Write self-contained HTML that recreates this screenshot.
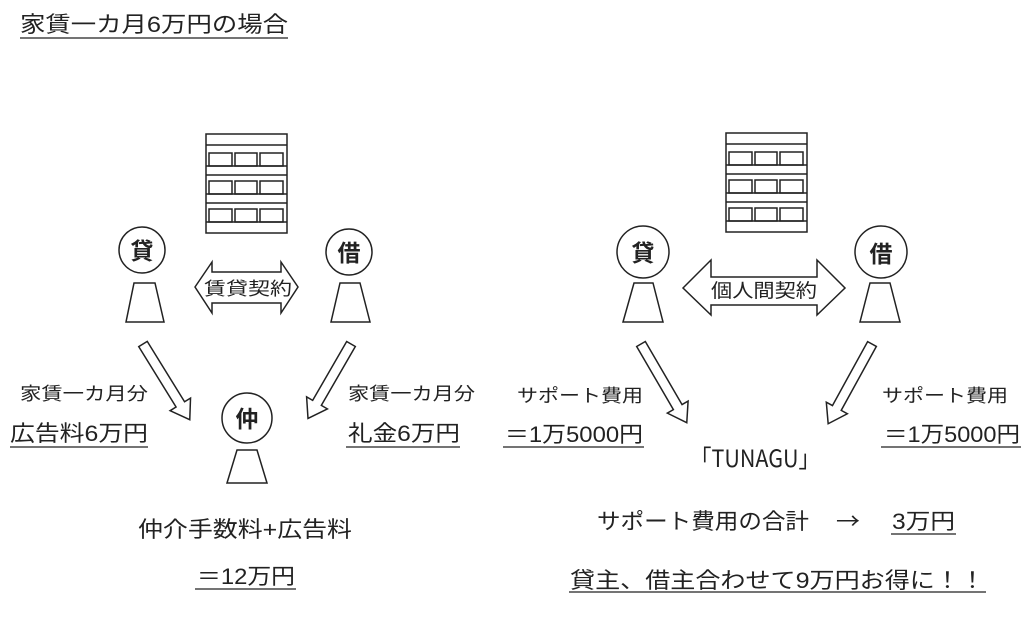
<!DOCTYPE html>
<html><head><meta charset="utf-8"><style>
html,body{margin:0;padding:0;background:#fff;}
svg{display:block;}
text{font-family:"Liberation Sans","Noto Sans CJK JP",sans-serif;fill:#222;}
.b{font-weight:bold;}
.cjk{font-family:"Noto Sans CJK JP",sans-serif;}
</style></head><body>
<svg width="1024" height="620" viewBox="0 0 1024 620" xmlns="http://www.w3.org/2000/svg">
<defs>
<g id="bld" fill="none" stroke="#222" stroke-width="1.5">
<rect x="0" y="0" width="81" height="99"/>
<line x1="0" y1="11" x2="81" y2="11"/>
<line x1="0" y1="32" x2="81" y2="32"/>
<line x1="0" y1="41" x2="81" y2="41"/>
<line x1="0" y1="60" x2="81" y2="60"/>
<line x1="0" y1="69" x2="81" y2="69"/>
<line x1="0" y1="88" x2="81" y2="88"/>
<rect x="3" y="19" width="23" height="13"/><rect x="29" y="19" width="22" height="13"/><rect x="54" y="19" width="23" height="13"/>
<rect x="3" y="47" width="23" height="13"/><rect x="29" y="47" width="22" height="13"/><rect x="54" y="47" width="23" height="13"/>
<rect x="3" y="75" width="23" height="13"/><rect x="29" y="75" width="22" height="13"/><rect x="54" y="75" width="23" height="13"/>
</g>
</defs>

<text x="20" y="32" font-size="22" textLength="268" lengthAdjust="spacingAndGlyphs">家賃一カ月6万円の場合</text>
<line x1="20" y1="38" x2="288" y2="38" stroke="#222" stroke-width="1.3"/>

<!-- LEFT -->
<use href="#bld" x="206" y="134"/>
<g fill="#fff" stroke="#222" stroke-width="1.5">
<circle cx="142" cy="250" r="23"/>
<polygon points="134,283 155,283 164,322 126,322"/>
<circle cx="349" cy="252" r="23"/>
<polygon points="340,283 360,283 370,322 331,322"/>
<circle cx="247" cy="418" r="25"/>
<polygon points="237,450 257,450 267,483 227,483"/>
<polygon points="195,287 212,262 212,272 281,272 281,262 298,287 281,313 281,303 212,303 212,313"/>
<polygon transform="translate(143,344) rotate(58.3)" points="0,-5 71,-5 71,-12 89,0 71,12 71,5 0,5"/>
<polygon transform="translate(351,344) rotate(120)" points="0,-5 68,-5 68,-12 86,0 68,12 68,5 0,5"/>
</g>
<text x="142" y="259" font-size="23" class="b" text-anchor="middle">貸</text>
<text x="349" y="261" font-size="23" class="b" text-anchor="middle">借</text>
<text x="247" y="427" font-size="23" class="b" text-anchor="middle">仲</text>
<text x="204" y="295" font-size="18" textLength="88" lengthAdjust="spacingAndGlyphs">賃貸契約</text>

<text x="20" y="400" font-size="18" textLength="128" lengthAdjust="spacingAndGlyphs">家賃一カ月分</text>
<text x="10" y="441" font-size="22" textLength="138" lengthAdjust="spacingAndGlyphs">広告料6万円</text>
<line x1="10" y1="447" x2="148" y2="447" stroke="#222" stroke-width="1.3"/>
<text x="348" y="400" font-size="18" textLength="127" lengthAdjust="spacingAndGlyphs">家賃一カ月分</text>
<text x="348" y="441" font-size="22" textLength="112" lengthAdjust="spacingAndGlyphs">礼金6万円</text>
<line x1="346" y1="447" x2="460" y2="447" stroke="#222" stroke-width="1.3"/>
<text x="138" y="537" font-size="22" textLength="214" lengthAdjust="spacingAndGlyphs">仲介手数料+広告料</text>
<text x="197" y="584" font-size="22" textLength="98" lengthAdjust="spacingAndGlyphs">＝12万円</text>
<line x1="195" y1="589" x2="296" y2="589" stroke="#222" stroke-width="1.3"/>

<!-- RIGHT -->
<use href="#bld" x="726" y="133"/>
<g fill="#fff" stroke="#222" stroke-width="1.5">
<circle cx="643" cy="252" r="26"/>
<polygon points="634,283 653,283 663,322 623,322"/>
<circle cx="881" cy="252" r="26"/>
<polygon points="870,283 890,283 900,322 860,322"/>
<polygon points="683,288 711,260 711,277 817,277 817,260 845,288 817,315 817,305 711,305 711,315"/>
<polygon transform="translate(641,344) rotate(59.8)" points="0,-5 73,-5 73,-12 91,0 73,12 73,5 0,5"/>
<polygon transform="translate(872,344) rotate(118.8)" points="0,-5 73,-5 73,-12 91,0 73,12 73,5 0,5"/>
</g>
<text x="643" y="261" font-size="23" class="b" text-anchor="middle">貸</text>
<text x="881" y="262" font-size="23" class="b" text-anchor="middle">借</text>
<text x="711" y="297" font-size="19" textLength="106" lengthAdjust="spacingAndGlyphs">個人間契約</text>

<text x="517" y="402" font-size="18" textLength="126" lengthAdjust="spacingAndGlyphs">サポート費用</text>
<text x="505" y="442" font-size="22" textLength="138" lengthAdjust="spacingAndGlyphs">＝1万5000円</text>
<line x1="503" y1="447" x2="644" y2="447" stroke="#222" stroke-width="1.3"/>
<text x="882" y="402" font-size="18" textLength="126" lengthAdjust="spacingAndGlyphs">サポート費用</text>
<text x="884" y="442" font-size="22" textLength="136" lengthAdjust="spacingAndGlyphs">＝1万5000円</text>
<line x1="881" y1="447" x2="1021" y2="447" stroke="#222" stroke-width="1.3"/>
<text x="690" y="467" font-size="24" class="cjk" textLength="130" lengthAdjust="spacingAndGlyphs">「TUNAGU」</text>
<text x="597" y="529" font-size="22" textLength="212" lengthAdjust="spacingAndGlyphs">サポート費用の合計</text>
<text x="836" y="529" font-size="22" class="cjk" textLength="24" lengthAdjust="spacingAndGlyphs">→</text>
<text x="892" y="529" font-size="22" textLength="63" lengthAdjust="spacingAndGlyphs">3万円</text>
<line x1="891" y1="534" x2="956" y2="534" stroke="#222" stroke-width="1.3"/>
<text x="570" y="588" font-size="22" textLength="415" lengthAdjust="spacingAndGlyphs">貸主、借主合わせて9万円お得に！！</text>
<line x1="569" y1="592" x2="986" y2="592" stroke="#222" stroke-width="1.3"/>
</svg>
</body></html>
